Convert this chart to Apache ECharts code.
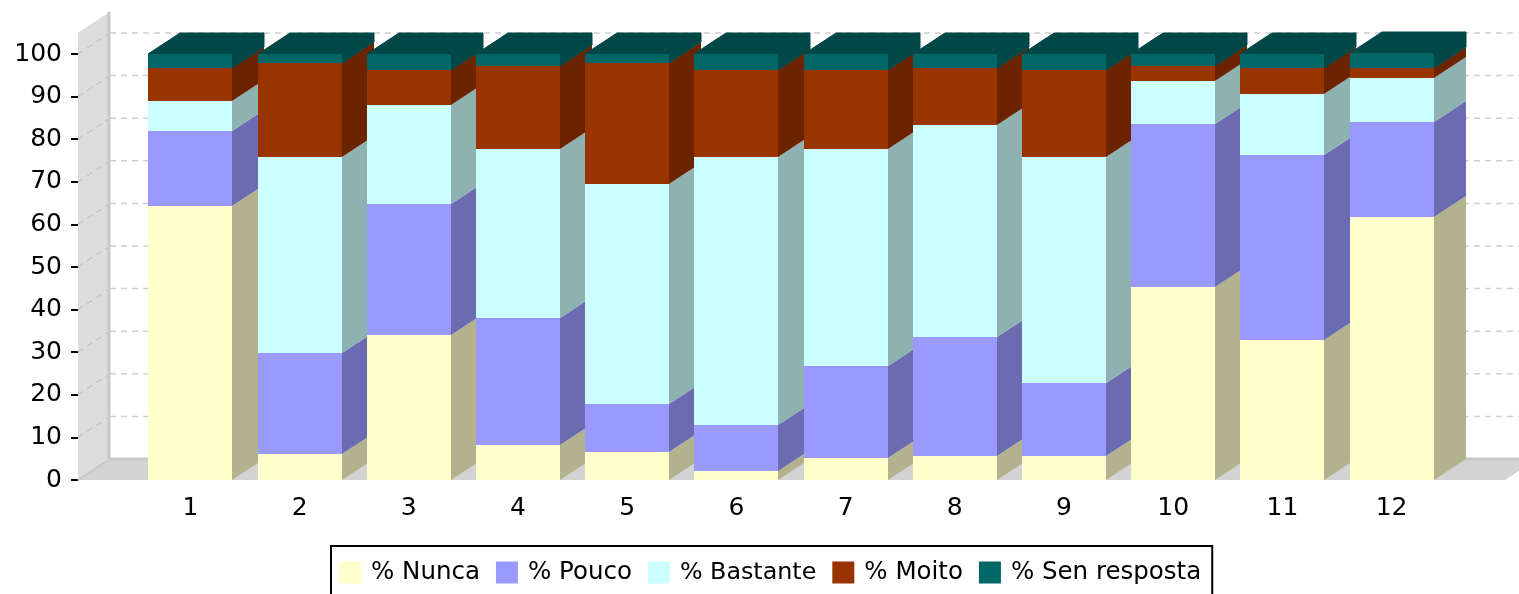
<!DOCTYPE html>
<html>
<head>
<meta charset="utf-8">
<style>html,body{margin:0;padding:0;background:#fff;overflow:hidden}#c{width:1519px;height:594px}</style>
<script src="https://cdn.jsdelivr.net/npm/echarts@6/dist/echarts.min.js"></script>
</head>
<body>
<div id="c"></div>
<script>
var categories = ['1','2','3','4','5','6','7','8','9','10','11','12'];
var yTicks = [10,20,30,40,50,60,70,80,90,100];
var nunca     = [64.3, 6.1,34.0, 8.2, 6.6, 2.1, 5.2, 5.6, 5.6,45.3,32.9,61.7];
var pouco     = [17.6,23.7,30.8,29.8,11.2,10.8,21.6,28.0,17.2,38.3,43.4,22.3];
var bastante  = [ 7.1,46.0,23.2,39.7,51.7,62.9,50.9,49.7,53.0,10.1,14.3,10.4];
var moito     = [ 7.7,22.1, 8.2,19.5,28.4,20.4,18.5,13.4,20.4, 3.5, 6.1, 2.3];
var senResp   = [ 3.3, 2.1, 3.8, 2.8, 2.1, 3.8, 3.8, 3.3, 3.8, 2.8, 3.3, 3.5];
var seriesNames = ['% Nunca','% Pouco','% Bastante','% Moito','% Sen resposta'];
var seriesValues = [nunca,pouco,bastante,moito,senResp];
var frontColors = ['#ffffcc','#9999ff','#ccffff','#993300','#006666'];
var sideColors  = ['#b2b28e','#6b6bb2','#8eb2b2','#6b2300','#004747'];
var topColor = '#004747';
var DX = 32, DY = 21, BAR = 84, WALL = 57.8;
var FONT = '"DejaVu Sans"';

function poly(points, fill, z2, seal) {
  return {type:'polygon', z2:z2, shape:{points:points},
    style:{fill:fill, stroke:seal ? fill : null, lineWidth:seal ? 1 : 0}};
}
function stackSeries(si) {
  var rows = categories.map(function (c, i) {
    var base = 0;
    for (var k = 0; k < si; k++) base += seriesValues[k][i];
    return [i, base, base + seriesValues[si][i]];
  });
  return {
    type:'custom', name:seriesNames[si], silent:true, animation:false, clip:false,
    itemStyle:{color:frontColors[si]},
    encode:{x:0, y:2},
    data:rows,
    renderItem:function (params, api) {
      var i = api.value(0);
      var p0 = api.coord([i, api.value(1)]);
      var p1 = api.coord([i, api.value(2)]);
      var x0 = Math.round(p0[0] - BAR/2), x1 = x0 + BAR;
      var yb = Math.round(p0[1]), yt = Math.round(p1[1]);
      var z = (i + 1) * 20 + si * 2;
      var last = si === seriesNames.length - 1;
      var kids = [];
      if (last) {
        kids.push(poly([[x0,yt],[x0+DX,yt-DY],[x1+DX,yt-DY],[x1,yt]], topColor, z, true));
      }
      kids.push(poly([[x1,yb],[x1+DX,yb-DY],[x1+DX,yt-DY],[x1,yt]], sideColors[si], z, last));
      kids.push({type:'rect', z2:z+1, shape:{x:x0,y:yt,width:BAR,height:yb-yt}, style:{fill:frontColors[si], stroke:null}});
      return {type:'group', children:kids};
    }
  };
}
var wallSeries = {
  type:'custom', name:'walls', silent:true, animation:false, clip:false, z:1,
  encode:{x:0, y:1}, data:[[0,0]],
  renderItem:function (params, api) {
    var o = api.coord([0,0]), t = api.coord([0,105]);
    var L = params.coordSys.x - WALL, y0 = o[1], yTop = t[1];
    var R = params.coordSys.x + params.coordSys.width + 58.8;
    var lineStyle = {stroke:'#c8c8c8', lineWidth:3, fill:null};
    var thin = {stroke:'#c8c8c8', lineWidth:2, fill:null};
    return {type:'group', children:[
      poly([[L,y0],[L+DX,y0-DY],[L+DX,yTop-DY],[L,yTop]], '#dddddd', 1),
      poly([[L,y0],[L+DX,y0-DY],[R+DX,y0-DY],[R,y0]], '#d3d3d3', 1),
      {type:'line', z2:2, shape:{x1:L+DX-1,y1:y0-DY,x2:L+DX-1,y2:yTop-DY}, style:lineStyle},
      {type:'line', z2:2, shape:{x1:L+DX,y1:y0-DY,x2:R+DX,y2:y0-DY}, style:lineStyle},
      {type:'line', z2:2, shape:{x1:L,y1:y0,x2:L+DX,y2:y0-DY}, style:thin}
    ]};
  }
};
var gridSeries = {
  type:'custom', name:'gridlines', silent:true, animation:false, clip:false, z:1,
  encode:{x:0, y:1}, data:yTicks.map(function (v) { return [0, v]; }),
  renderItem:function (params, api) {
    var y = api.coord([0, api.value(1)])[1];
    var L = params.coordSys.x - WALL;
    var R = params.coordSys.x + params.coordSys.width + 58.8;
    var s = {stroke:'#d0d0d0', lineWidth:1.5, lineDash:[6,5], fill:null};
    var w = {stroke:'#c6c6c6', lineWidth:1.5, lineDash:[6,5], fill:null};
    return {type:'group', children:[
      {type:'line', z2:3, shape:{x1:L,y1:y,x2:L+DX,y2:y-DY}, style:w},
      {type:'line', z2:3, shape:{x1:L+DX,y1:y-DY,x2:R+DX,y2:y-DY}, style:s}
    ]};
  }
};
var chart = echarts.init(document.getElementById('c'), null, {renderer:'canvas'});
chart.setOption({
  backgroundColor:'#ffffff',
  animation:false,
  grid:{left:135.8, top:54, width:1310.4, height:426, containLabel:false},
  xAxis:{type:'category', data:categories, axisLine:{show:false}, axisTick:{show:false}, splitLine:{show:false},
    axisLabel:{color:'#000', fontFamily:FONT, fontSize:25, margin:16, interval:0}},
  yAxis:{type:'value', min:0, max:100, interval:10, offset:WALL, axisLine:{show:false}, splitLine:{show:false},
    axisTick:{show:true, length:7, lineStyle:{color:'#000', width:2}},
    axisLabel:{color:'#000', fontFamily:FONT, fontSize:25, margin:16, padding:[4,0,0,0]}},
  legend:{show:true, left:331, top:546, orient:'horizontal', icon:'rect',
    data:seriesNames.map(function (n, i) {
      return i === 2 ? {name:n, textStyle:{fontSize:23.8}} : {name:n};
    }),
    itemWidth:22, itemHeight:22, itemGap:16, selectedMode:false,
    padding:[14,11,34,8], backgroundColor:'#fff', borderColor:'#000', borderWidth:2,
    textStyle:{color:'#000', fontFamily:FONT, fontSize:24.5, padding:[4,0,0,5]}},
  series:[wallSeries, gridSeries].concat(seriesNames.map(function (n, i) { return stackSeries(i); }))
});
</script>
</body>
</html>
